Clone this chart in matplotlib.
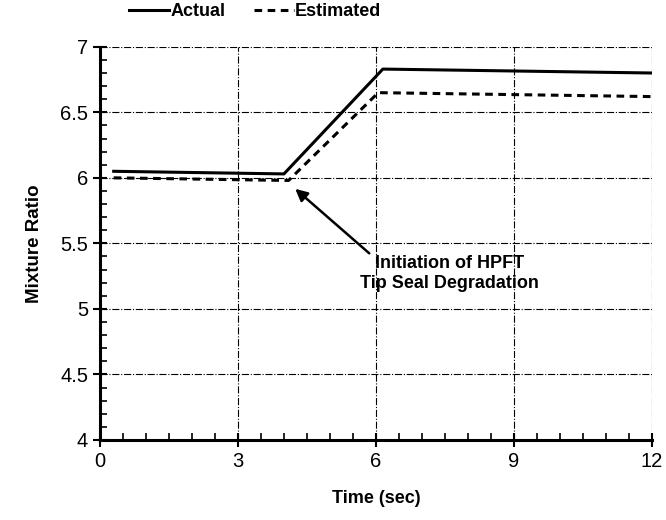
import matplotlib.pyplot as plt
from matplotlib.ticker import MultipleLocator

plt.rcParams['font.family'] = ['Liberation Sans', 'DejaVu Sans']

# values
actual_t = [0.3, 4.0, 6.15, 12.0]
actual_mr = [6.05, 6.03, 6.83, 6.80]
est_t = [0.3, 4.1, 6.05, 12.0]
est_mr = [6.00, 5.98, 6.65, 6.62]

x_ticks = [0, 3, 6, 9, 12]
y_ticks = [4, 4.5, 5, 5.5, 6, 6.5, 7]
y_labels = ["4", "4.5", "5", "5.5", "6", "6.5", "7"]


def plot_data():
    fig = plt.figure(figsize=(6.66, 5.2), dpi=100)
    ax = fig.add_axes([0.150, 0.154, 0.829, 0.756])

    ax.plot(actual_t, actual_mr, color="black", lw=2.2, label="Actual")
    ax.plot(est_t, est_mr, color="black", lw=2.2, ls=(0, (2.5, 1.8)), label="Estimated")

    ax.set_xlim(0, 12)
    ax.set_ylim(4, 7)
    ax.set_xticks(x_ticks)
    ax.set_yticks(y_ticks)
    ax.set_yticklabels(y_labels)
    ax.xaxis.set_minor_locator(MultipleLocator(0.5))
    ax.yaxis.set_minor_locator(MultipleLocator(0.1))
    ax.tick_params(which="major", direction="inout", length=10, width=1.5, labelsize=14.5)
    ax.tick_params(which="minor", direction="in", length=5, width=1.2)

    for s in ["top", "right"]:
        ax.spines[s].set_visible(False)
    for s in ["left", "bottom"]:
        ax.spines[s].set_linewidth(2.2)

    ax.grid(True, which="major", color="black", lw=0.8, ls="-.")

    ax.set_xlabel("Time (sec)", fontsize=13, fontweight="bold", labelpad=14)
    ax.set_ylabel("Mixture Ratio", fontsize=13.5, fontweight="bold", labelpad=12)

    # annotation
    ax.annotate("", xy=(4.2, 5.93), xytext=(5.9, 5.41),
                arrowprops=dict(arrowstyle="-|>", color="black", lw=1.8,
                                mutation_scale=18))
    ax.text(7.6, 5.35, "Initiation of HPFT", ha="center", va="center",
            fontsize=13, fontweight="bold")
    ax.text(7.6, 5.19, "Tip Seal Degradation", ha="center", va="center",
            fontsize=13, fontweight="bold")

    fig.legend(loc="upper left", bbox_to_anchor=(0.17, 1.025), ncol=2, frameon=False,
               handlelength=2.2, handletextpad=0.05, columnspacing=1.6,
               prop={"size": 13, "weight": "bold"})

    fig.savefig("out.png", dpi=100)


if __name__ == "__main__":
    plot_data()
